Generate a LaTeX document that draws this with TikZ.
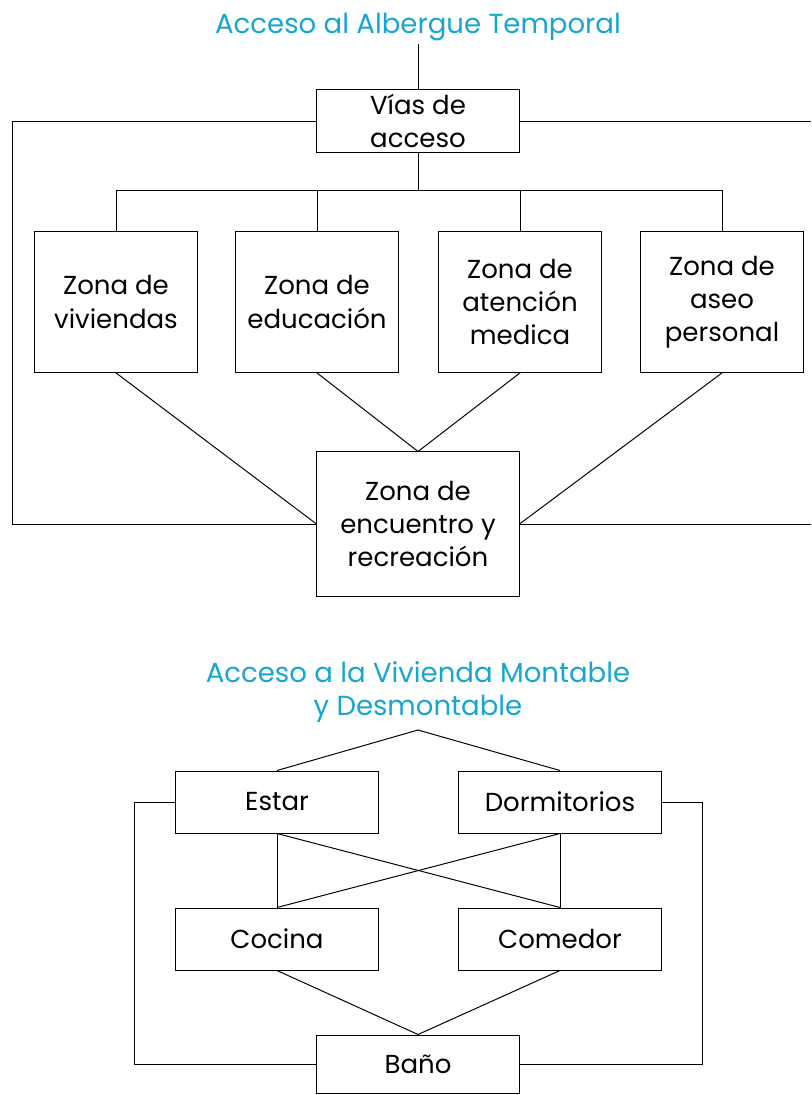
\documentclass[tikz,border=0pt]{standalone}
\usepackage{fontspec}
\setmainfont{Poppins}
\usepackage{xcolor}
\usepackage{tikz}
\usetikzlibrary{positioning}
\definecolor{titlecyan}{RGB}{22,166,206}

\begin{document}
\begin{tikzpicture}[
  x=0.025cm, y=-0.025cm,
  line width=0.7pt,
  font=\fontsize{18.5}{23.5}\selectfont,
  ttl/.style={text=titlecyan, align=center, inner sep=2pt,
              font=\fontsize{19.6}{23.5}\selectfont},
  zbox/.style={draw, align=center, inner sep=0pt,
               minimum width=4.05cm, minimum height=3.52cm},
  wbox/.style={draw, align=center, inner sep=0pt,
               minimum width=5.05cm, minimum height=1.55cm},
]
\useasboundingbox (0,0) rectangle (811,1095);

% --- albergue temporal
\node[ttl] (t1) at (418,27) {Acceso al Albergue Temporal};
\node[wbox] (vias) at (418,121) {V\'{\i}as de\\acceso};
\node[zbox] (z1) at (116,302) {Zona de\\viviendas};
\node[zbox] (z2) at (317,302) {Zona de\\educaci\'on};
\node[zbox] (z3) at (520,302) {Zona de\\atenci\'on\\medica};
\node[zbox] (z4) at (722,302) {Zona de\\aseo\\personal};
\node[wbox, minimum height=3.6cm] (enc) at (418,524)
  {Zona de\\encuentro y\\recreaci\'on};
\coordinate (bus) at (418,190);
\coordinate (redge) at (811,0);

\draw (t1.south) -- (vias.north);
\draw (vias.south) -- (bus);
\draw (z1.north |- bus) -- (z4.north |- bus);
\foreach \i in {1,...,4}
  \draw (z\i.north) -- (z\i.north |- bus);
\draw (vias.west) -- ++(-304,0) |- (enc.west);
\draw (vias.east) -- (vias.east -| redge);
\draw (enc.east) -- (enc.east -| redge);
\draw (z1.south) -- (enc.west);
\draw (z4.south) -- (enc.east);
\draw (z2.south) -- (enc.north) -- (z3.south);

% --- vivienda montable
\node[ttl] (t2) at (418,692) {Acceso a la Vivienda Montable\\y Desmontable};
\node[wbox] (estar) at (277,802) {Estar};
\node[wbox] (dorm) at (560,802) {Dormitorios};
\node[wbox] (coc) at (277,939) {Cocina};
\node[wbox] (com) at (560,939) {Comedor};
\node[wbox, minimum height=1.45cm] (bano) at (418,1064) {Ba\~no};
\coordinate (peak) at (418,730);

\draw (estar.north) -- (peak) -- (dorm.north);
\draw (estar.south) -- (coc.north);
\draw (dorm.south) -- (com.north);
\draw (estar.south) -- (com.north);
\draw (dorm.south) -- (coc.north);
\draw (coc.south) -- (bano.north) -- (com.south);
\draw (estar.west) -- ++(-41,0) |- (bano.west);
\draw (dorm.east) -- ++(41,0) |- (bano.east);
\end{tikzpicture}
\end{document}
